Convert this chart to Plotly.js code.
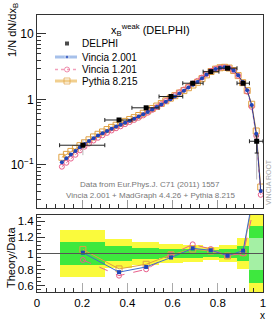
<!DOCTYPE html>
<html><head><meta charset="utf-8">
<script src="https://cdn.plot.ly/plotly-3.0.1.min.js"></script>
<style>body{margin:0;background:#fff}#c{width:277px;height:323px}</style>
</head><body><div id="c"></div>
<script>
// ---------- data ----------
const mcX = [0.11,0.13,0.15,0.17,0.19,0.21,0.23,0.25,0.27,0.29,0.31,0.33,0.35,0.37,0.39,0.41,0.43,0.45,0.47,0.49,0.51,0.53,0.55,0.57,0.59,0.61,0.63,0.65,0.67,0.69,0.71,0.73,0.75,0.77,0.79,0.81,0.83,0.85,0.87,0.89,0.91,0.93,0.95,0.97,0.99];
const vincia2 = [0.110,0.126,0.144,0.163,0.186,0.209,0.232,0.256,0.281,0.305,0.331,0.357,0.385,0.412,0.442,0.473,0.507,0.547,0.592,0.643,0.700,0.764,0.838,0.920,1.01,1.11,1.23,1.36,1.52,1.68,1.85,2.10,2.40,2.70,2.92,3.05,3.10,3.02,2.78,2.35,1.85,1.38,0.82,0.30,0.040];
const vincia1 = [0.094,0.108,0.125,0.143,0.167,0.190,0.212,0.236,0.260,0.284,0.309,0.336,0.363,0.389,0.420,0.452,0.487,0.526,0.571,0.627,0.693,0.764,0.851,0.948,1.047,1.154,1.283,1.421,1.590,1.757,1.924,2.163,2.448,2.738,2.949,3.065,3.10,3.02,2.752,2.303,1.787,1.318,0.771,0.279,0.035];
const pythia8 = [0.131,0.145,0.161,0.178,0.197,0.218,0.242,0.268,0.294,0.319,0.347,0.375,0.404,0.433,0.463,0.494,0.528,0.569,0.616,0.669,0.728,0.793,0.869,0.954,1.047,1.143,1.255,1.367,1.512,1.663,1.832,2.079,2.376,2.673,2.905,3.05,3.10,3.02,2.766,2.315,1.806,1.366,0.845,0.33,0.046];

const dataX  = [0.203,0.363,0.483,0.593,0.689,0.769,0.843,0.912,0.972];
const dataY  = [0.20,0.486,0.746,1.11,1.77,2.66,3.00,1.77,0.23];
const binLo  = [0.10,0.30,0.42,0.54,0.645,0.735,0.805,0.885,0.94];
const binHi  = [0.30,0.42,0.54,0.645,0.735,0.805,0.885,0.94,1.00];
const statUp = [0.006,0.012,0.015,0.02,0.03,0.04,0.05,0.05,0.047];
const statDn = [0.006,0.012,0.015,0.02,0.03,0.04,0.05,0.05,0.078];
const totUp  = [0.045,0.03,0.03,0.04,0.05,0.07,0.08,0.06,0.04];
const totDn  = [0.059,0.03,0.03,0.04,0.05,0.07,0.08,0.06,0.17];

const ratioV2 = [1.01,0.77,0.834,0.95,1.064,1.04,0.973,1.035,1.95];
const ratioV1 = [0.92,0.727,0.805,0.985,1.113,1.055,0.973,1.0,1.7];
const ratioP8 = [1.05,0.81,0.867,0.985,1.055,1.03,0.97,1.01,1.9];

const bandYellow = [0.29,0.18,0.14,0.12,0.10,0.08,0.11,0.19,0.6];
const bandGreen  = [0.145,0.09,0.07,0.06,0.05,0.04,0.055,0.095,0.35];
const bandGreenC = [1,1,1,1,1,1,1,1,0.99];
const bandLight  = [0,0,0,0,0,0,0,0,0.195];
const bandLightC = [1,1,1,1,1,1,1,1,0.995];

const seriesNames = ['DELPHI','Vincia 2.001','Vincia 1.201','Pythia 8.215'];
const logTickVals = [0.1,1,10];
const logTickText = ['10<sup>\u22121</sup>','1','10'];
const logMinorVals = [0.03,0.04,0.05,0.06,0.07,0.08,0.09,0.2,0.3,0.4,0.5,0.6,0.7,0.8,0.9,2,3,4,5,6,7,8,9];
const ratioTicks = [0.6,0.8,1,1.2,1.4];

// ---------- styles ----------
const W = 277, H = 323;
const FONT = 'Liberation Sans, Arial, sans-serif';
const cBlue = '#1f45b8', cBlueLine = '#3f6ccc', cPink = '#e8608c', cOrange = '#e0a040';
const cYellow = '#fafa3c', cGreen = '#3ee83e', cLight = '#a4f0a4';
const px = x => x / W, py = y => 1 - y / H;

const binC = binLo.map((l, i) => (l + binHi[i]) / 2);
const binW = binLo.map((l, i) => binHi[i] - l);

const traces = [];
// ratio bands
traces.push({type:'bar', x:binC, width:binW, base:bandYellow.map(h=>1-h), y:bandYellow.map(h=>2*h),
  marker:{color:cYellow, line:{width:0}}, xaxis:'x2', yaxis:'y2', hoverinfo:'skip'});
traces.push({type:'bar', x:binC, width:binW, base:bandGreen.map((h,i)=>bandGreenC[i]-h), y:bandGreen.map(h=>2*h),
  marker:{color:cGreen, line:{width:0}}, xaxis:'x2', yaxis:'y2', hoverinfo:'skip'});
traces.push({type:'bar', x:binC, width:binW, base:bandLight.map((h,i)=>bandLightC[i]-h), y:bandLight.map(h=>2*h),
  marker:{color:cLight, line:{width:0}}, xaxis:'x2', yaxis:'y2', hoverinfo:'skip'});
// ratio lines
traces.push({x:dataX, y:ratioP8, mode:'lines+markers', xaxis:'x2', yaxis:'y2',
  line:{color:cOrange, width:1}, marker:{symbol:'square-open', size:6, color:cOrange}});
traces.push({x:dataX, y:ratioV1, mode:'lines+markers', xaxis:'x2', yaxis:'y2',
  line:{color:cPink, width:1, dash:'dash'}, marker:{symbol:'circle-open', size:5, color:cPink}});
traces.push({x:dataX, y:ratioV2, mode:'lines+markers', xaxis:'x2', yaxis:'y2',
  line:{color:cBlueLine, width:1}, marker:{symbol:'square', size:4, color:cBlue}});

// main MC curves
traces.push({x:mcX, y:pythia8, mode:'lines+markers', xaxis:'x', yaxis:'y',
  line:{color:cOrange, width:1}, marker:{symbol:'square-open', size:6, color:cOrange, line:{width:1}}});
traces.push({x:mcX, y:vincia1, mode:'lines+markers', xaxis:'x', yaxis:'y',
  line:{color:cPink, width:1, dash:'dot'}, marker:{symbol:'circle-open', size:5, color:cPink, line:{width:1}}});
traces.push({x:mcX, y:vincia2, mode:'lines+markers', xaxis:'x', yaxis:'y',
  line:{color:'#2c3f9a', width:1}, marker:{symbol:'circle', size:4, color:cBlue}});
// data: total error (gray) then stat + x bin (black)
traces.push({x:dataX, y:dataY, mode:'markers', xaxis:'x', yaxis:'y', marker:{size:1, color:'rgba(0,0,0,0)'},
  error_y:{type:'data', symmetric:false, array:totUp, arrayminus:totDn, color:'#b8b8b8', thickness:1, width:0}});
traces.push({x:dataX, y:dataY, mode:'markers', xaxis:'x', yaxis:'y',
  marker:{symbol:'square', size:5, color:'#000'},
  error_x:{type:'data', symmetric:false, array:dataX.map((x,i)=>binHi[i]-x), arrayminus:dataX.map((x,i)=>x-binLo[i]), color:'#222', thickness:1, width:2},
  error_y:{type:'data', symmetric:false, array:statUp, arrayminus:statDn, color:'#222', thickness:1, width:2}});
// minor log ticks carrier (invisible)
traces.push({x:[0.5], y:[1], mode:'markers', marker:{opacity:0}, xaxis:'x', yaxis:'y3', hoverinfo:'skip'});

// manual legend (pixel coordinate axis)
const legRowY = [43.5, 57, 69.5, 81];
const legSampleX0 = 55, legSampleX1 = 77, legMarkX = 67, legTextX = 80;
traces.push({x:[legSampleX0,legSampleX1], y:[legRowY[1],legRowY[1]], mode:'lines', xaxis:'x3', yaxis:'y4', line:{color:'#a6c0ea', width:3}});
traces.push({x:[legSampleX0,legSampleX1], y:[legRowY[2],legRowY[2]], mode:'lines', xaxis:'x3', yaxis:'y4', line:{color:'#f2a0bb', width:1.5, dash:'dot'}});
traces.push({x:[legSampleX0,legSampleX1], y:[legRowY[3],legRowY[3]], mode:'lines', xaxis:'x3', yaxis:'y4', line:{color:'#f1cf8e', width:3}});
traces.push({x:[legMarkX,legMarkX,legMarkX,legMarkX], y:legRowY, mode:'markers', xaxis:'x3', yaxis:'y4',
  marker:{symbol:['square','circle','circle-open','square-open'], size:[5,4,5,6], color:['#000',cBlue,cPink,cOrange], line:{width:1}}});

const annotations = [];
seriesNames.forEach((n,i)=>annotations.push({xref:'paper', yref:'paper', x:px(legTextX), y:py(legRowY[i]),
  text:n, showarrow:false, xanchor:'left', yanchor:'middle', font:{size:10, color:'#000'}}));
annotations.push({xref:'paper', yref:'paper', x:px(150), y:py(30), text:'x<sub>B</sub><sup>weak</sup> (DELPHI)',
  showarrow:false, xanchor:'center', yanchor:'middle', font:{size:11, color:'#000'}});
annotations.push({xref:'paper', yref:'paper', x:px(150), y:py(184), text:'Data from Eur.Phys.J. C71 (2011) 1557',
  showarrow:false, xanchor:'center', yanchor:'middle', font:{size:8, color:'#777'}});
annotations.push({xref:'paper', yref:'paper', x:px(150), y:py(195), text:'Vincia 2.001 + MadGraph 4.4.26 + Pythia 8.215',
  showarrow:false, xanchor:'center', yanchor:'middle', font:{size:8, color:'#777'}});
annotations.push({xref:'paper', yref:'paper', x:px(269), y:py(182), text:'VINCIA ROOT', textangle:-90,
  showarrow:false, xanchor:'center', yanchor:'middle', font:{size:7, color:'#aaa'}});
annotations.push({xref:'paper', yref:'paper', x:px(13), y:py(30), text:'1/N dN/dx<sub>B</sub>', textangle:-90,
  showarrow:false, xanchor:'center', yanchor:'middle', font:{size:11, color:'#000'}});
annotations.push({xref:'paper', yref:'paper', x:px(11), y:py(258), text:'Theory/Data', textangle:-90,
  showarrow:false, xanchor:'center', yanchor:'middle', font:{size:11, color:'#000'}});
annotations.push({xref:'paper', yref:'paper', x:px(262), y:py(315), text:'x',
  showarrow:false, xanchor:'center', yanchor:'middle', font:{size:10, color:'#000'}});

const xDom = [px(37), px(263)];
const frame = {showline:true, mirror:true, linecolor:'#333', linewidth:1, zeroline:false, showgrid:false};
const layout = {
  width:W, height:H, margin:{l:0,r:0,t:0,b:0}, showlegend:false, barmode:'overlay', bargap:0,
  paper_bgcolor:'#fff', plot_bgcolor:'rgba(0,0,0,0)', font:{family:FONT, color:'#000'},
  xaxis: Object.assign({}, frame, {domain:xDom, anchor:'y', range:[0,1], dtick:0.2, ticks:'inside', ticklen:8,
    tickcolor:'#999', showticklabels:false, minor:{dtick:0.04, ticks:'inside', ticklen:4, tickcolor:'#333'}}),
  yaxis: Object.assign({}, frame, {domain:[py(208), py(15)], anchor:'x', type:'log', range:[Math.log10(0.022), Math.log10(19.5)],
    tickvals:logTickVals, ticktext:logTickText, ticks:'inside', ticklen:9, tickcolor:'#333', tickfont:{size:12}}),
  yaxis3: {overlaying:'y', anchor:'x', side:'left', type:'log', range:[Math.log10(0.022), Math.log10(19.5)],
    tickvals:logMinorVals, ticks:'inside', ticklen:4, tickcolor:'#333', showticklabels:false, showline:false, showgrid:false, zeroline:false},
  xaxis2: Object.assign({}, frame, {domain:xDom, anchor:'y2', range:[0,1], dtick:0.2, ticks:'inside', ticklen:9,
    tickcolor:'#aaa', tickfont:{size:11.5}, minor:{dtick:0.04, ticks:'inside', ticklen:4, tickcolor:'#333'}}),
  yaxis2: Object.assign({}, frame, {domain:[py(292), py(215)], anchor:'x2', range:[0.525,1.475],
    tickvals:ratioTicks, ticks:'inside', ticklen:8, tickcolor:'#333', tickfont:{size:11.5},
    minor:{dtick:0.05, ticks:'inside', ticklen:4, tickcolor:'#333'}}),
  xaxis3: {domain:[0,1], anchor:'y4', range:[0,W], visible:false, fixedrange:true},
  yaxis4: {domain:[0,1], anchor:'x3', range:[H,0], visible:false, fixedrange:true},
  shapes:[{type:'line', xref:'x2', yref:'y2', x0:0, x1:1, y0:1, y1:1, line:{color:'#555', width:1}}],
  annotations: annotations
};
Plotly.newPlot('c', traces, layout, {staticPlot:true, displayModeBar:false});
</script></body></html>
